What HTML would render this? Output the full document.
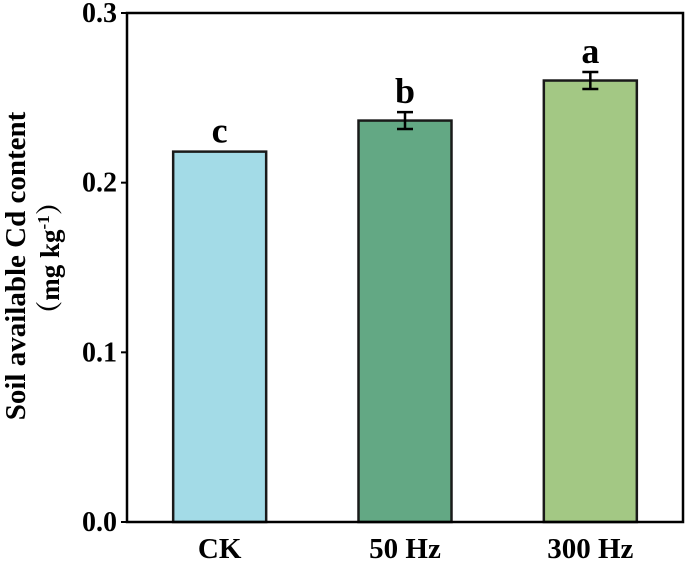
<!DOCTYPE html>
<html><head><meta charset="utf-8"><style>
html,body{margin:0;padding:0;background:#fff;}
svg text{font-family:"Liberation Serif","Noto Serif CJK SC",serif;font-weight:bold;fill:#000;}
</style></head><body>
<svg id="chart" width="685" height="561" xmlns="http://www.w3.org/2000/svg">
<g id="plot"></g>
<text transform="translate(25,266) rotate(-90)" text-anchor="middle" font-size="29">Soil available Cd content</text>
<text transform="translate(59,258) rotate(-90)" text-anchor="middle" font-size="27">（mg kg<tspan dy="-10" font-size="17">-1</tspan><tspan dy="10">）</tspan></text>
</svg>
<script>
const categories = ["CK", "50 Hz", "300 Hz"];
const values = [0.2183, 0.2366, 0.2602];
const errors = [0, 0.005, 0.005];
const letters = ["c", "b", "a"];
const colors = ["#a3dbe7", "#63a884", "#a3c884"];
const yTicks = [0.0, 0.1, 0.2, 0.3];
const yTickLabels = ["0.0", "0.1", "0.2", "0.3"];

const L = 127, R = 683, T = 13, B = 522;
const yMax = 0.3;
function y(v){ return B - (v / yMax) * (B - T); }
const band = (R - L) / categories.length;
function xc(i){ return L + band * (i + 0.5); }
const barW = 93;
const NS = "http://www.w3.org/2000/svg";
const g = document.getElementById("plot");
function mk(tag, attrs){ const e = document.createElementNS(NS, tag); for (const k in attrs) e.setAttribute(k, attrs[k]); g.appendChild(e); return e; }

categories.forEach((c, i) => {
  const top = y(values[i]);
  const r = mk("rect", {x: xc(i) - barW/2, y: top, width: barW, height: B - top, fill: colors[i], stroke: "#1a1a1a", "stroke-width": 2.5});
  
  
  let labelY = top - 9;
  if (errors[i] > 0) {
    const y1 = y(values[i] + errors[i]), y2 = y(values[i] - errors[i]);
    const eg = mk("path", {d: `M${xc(i)},${y1}V${y2}M${xc(i)-8},${y1}H${xc(i)+8}M${xc(i)-8},${y2}H${xc(i)+8}`, stroke: "#000", "stroke-width": 2.5, fill: "none"});
    
    
    labelY = y1 - 9;
  }
  const lt = mk("text", {x: xc(i), y: labelY, "text-anchor": "middle", "font-size": 36});
  lt.textContent = letters[i];
  
  
  const xt = mk("text", {x: xc(i), y: 558, "text-anchor": "middle", "font-size": 29});
  xt.textContent = c;
  
  
});

yTicks.forEach((v, i) => {
  const tk = mk("line", {x1: L - 6, x2: L, y1: y(v), y2: y(v), stroke: "#000", "stroke-width": 2});
  
  
  const t = mk("text", {x: 117, y: y(v) + 9, "text-anchor": "end", "font-size": 28});
  t.textContent = yTickLabels[i];
  
  
});

const frame = mk("rect", {x: L, y: T, width: R - L, height: B - T, fill: "none", stroke: "#000", "stroke-width": 2.5});


</script>
</body></html>
